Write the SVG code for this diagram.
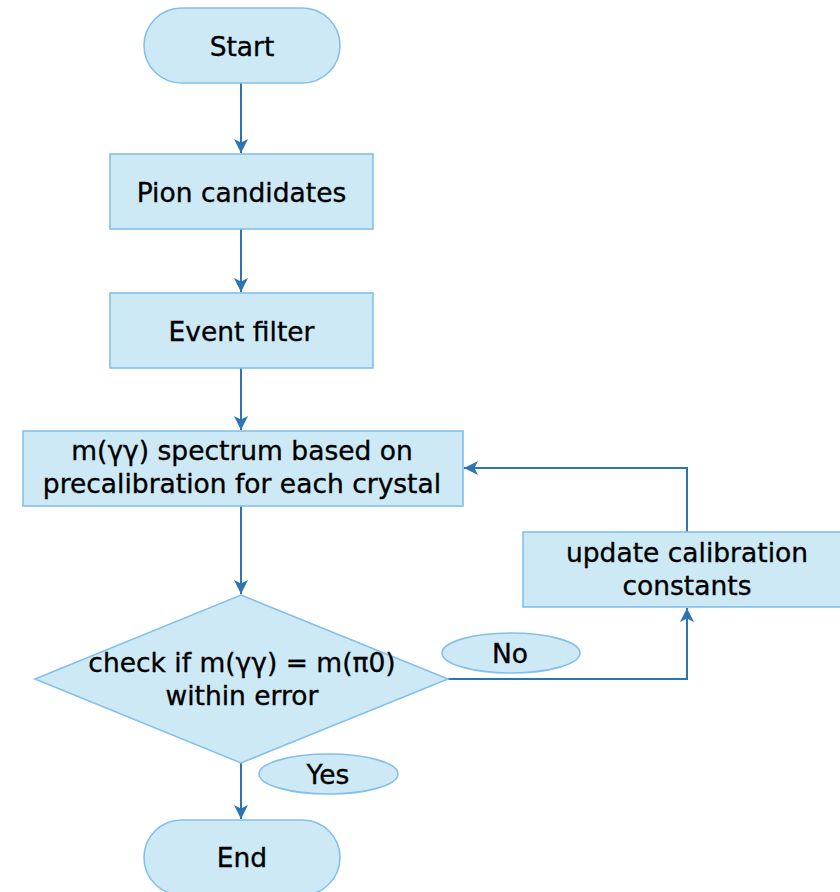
<svg xmlns="http://www.w3.org/2000/svg" width="840" height="892" viewBox="0 0 840 892">
<defs>
<style>
.n{fill:#cde9f6;stroke:#84c0e8;stroke-width:1.6}
.t{font-family:"DejaVu Sans",Verdana,sans-serif;font-size:26.5px;fill:#000;stroke:#000;stroke-width:0.35;text-anchor:middle}
.c{fill:none;stroke:#2e74ae;stroke-width:2}
</style>
<marker id="a" viewBox="0 0 14 14" markerWidth="14" markerHeight="14" refX="14" refY="7" orient="auto" markerUnits="userSpaceOnUse">
<path d="M0,0 L14,7 L0,14 L3.5,7 Z" fill="#2e74ae"/>
</marker>
</defs>
<rect width="840" height="892" fill="#fff"/>
<g id="connectors">
<path class="c" d="M241,83 V153" marker-end="url(#a)"/>
<path class="c" d="M241,229 V292" marker-end="url(#a)"/>
<path class="c" d="M241,368 V430" marker-end="url(#a)"/>
<path class="c" d="M241,506 V594" marker-end="url(#a)"/>
<path class="c" d="M241,763 V819" marker-end="url(#a)"/>
<path class="c" d="M448,679 H687 V608" marker-end="url(#a)"/>
<path class="c" d="M687,532 V468 H464" marker-end="url(#a)"/>
</g>
<g id="start">
<rect class="n" x="144" y="8" width="196" height="75" rx="37.5"/>
<text class="t" x="242" y="56">Start</text>
</g>
<g id="pion">
<rect class="n" x="110" y="154" width="263" height="75"/>
<text class="t" x="241.5" y="202">Pion candidates</text>
</g>
<g id="filter">
<rect class="n" x="110" y="293" width="263" height="75"/>
<text class="t" x="241.5" y="341">Event filter</text>
</g>
<g id="spectrum">
<rect class="n" x="23" y="431" width="440" height="75"/>
<text class="t" x="242" y="460">m(γγ) spectrum based on</text>
<text class="t" x="242" y="493">precalibration for each crystal</text>
</g>
<g id="update">
<rect class="n" x="523" y="532" width="328" height="75"/>
<text class="t" x="687" y="562">update calibration</text>
<text class="t" x="687" y="595">constants</text>
</g>
<g id="check">
<polygon class="n" points="241,595 448,679 241,763 35,679"/>
<text class="t" x="242" y="672">check if m(γγ) = m(π0)</text>
<text class="t" x="242" y="705">within error</text>
</g>
<g id="no">
<ellipse class="n" cx="511" cy="653" rx="69" ry="20"/>
<text class="t" x="510" y="663">No</text>
</g>
<g id="yes">
<ellipse class="n" cx="328.5" cy="774" rx="69.5" ry="20"/>
<text class="t" x="328" y="784">Yes</text>
</g>
<g id="end">
<rect class="n" x="144" y="820" width="196" height="75" rx="37.5"/>
<text class="t" x="242" y="867">End</text>
</g>
</svg>
